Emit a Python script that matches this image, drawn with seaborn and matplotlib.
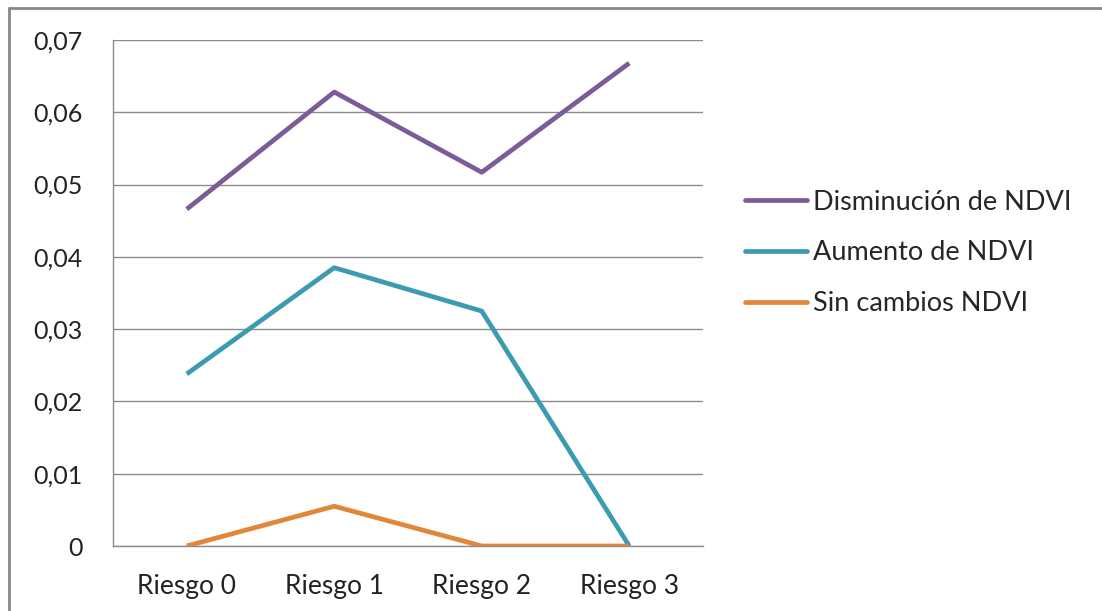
import matplotlib
matplotlib.use('Agg')
import matplotlib.pyplot as plt
from matplotlib.lines import Line2D
from matplotlib.ticker import FuncFormatter
import seaborn as sns
import pandas as pd

categorias = ['Riesgo 0', 'Riesgo 1', 'Riesgo 2', 'Riesgo 3']
series = ['Disminución de NDVI', 'Aumento de NDVI', 'Sin cambios NDVI']
disminucion = [0.0466, 0.0628, 0.0517, 0.0668]
aumento = [0.0238, 0.0385, 0.0325, 0.0]
sin_cambios = [0.0, 0.0055, 0.0, 0.0]

paleta = ['#7B5C99', '#3C9AB1', '#E0873A']

datos = pd.DataFrame({
    'pos': list(range(len(categorias))) * 3,
    'valor': disminucion + aumento + sin_cambios,
    'serie': [s for s in series for _ in categorias],
})

sns.set_style('white')
plt.rcParams['font.family'] = ['Lato', 'DejaVu Sans']

fig = plt.figure(figsize=(11.02, 6.11), dpi=100)
ax = fig.add_axes([113 / 1102, 65 / 611, 590 / 1102, 506 / 611])

sns.lineplot(data=datos, x='pos', y='valor', hue='serie', hue_order=series,
             palette=paleta, linewidth=3.4, ax=ax, legend=False)
for ln in ax.lines:
    ln.set_solid_capstyle('butt')

gris = '#8C8C8C'
ax.set_xlim(-0.5, 3.5)
ax.set_ylim(0, 0.07)
ax.set_yticks([0, 0.01, 0.02, 0.03, 0.04, 0.05, 0.06, 0.07])
ax.yaxis.set_major_formatter(FuncFormatter(lambda v, p: '0' if v == 0 else f'{v:.2f}'.replace('.', ',')))
ax.set_xticks(range(len(categorias)))
ax.set_xticklabels(categorias)
ax.set_xticks([-0.5, 0.5, 1.5, 2.5, 3.5], minor=True)
ax.tick_params(axis='x', which='major', length=0, pad=20, labelsize=19, labelcolor='#222222')
ax.tick_params(axis='x', which='minor', length=8, width=1, color=gris, direction='out')
ax.tick_params(axis='y', length=8, width=1, color=gris, pad=14, labelsize=18, labelcolor='#222222', direction='out')
ax.set_xlabel('')
ax.set_ylabel('')

ax.grid(axis='y', color=gris, linewidth=1)
ax.set_axisbelow(True)
for lado in ['top', 'right']:
    ax.spines[lado].set_visible(False)
for lado in ['left', 'bottom']:
    ax.spines[lado].set_color(gris)
    ax.spines[lado].set_linewidth(1)
ax.spines['bottom'].set_zorder(1)

manijas = [Line2D([], [], color=c, linewidth=3.4) for c in paleta]
fig.legend(manijas, series, loc='center left', bbox_to_anchor=(745 / 1102, 1 - 253 / 611),
           frameon=False, fontsize=19.5, handlelength=2.3, handletextpad=0.2, labelspacing=0.95,
           borderpad=0, borderaxespad=0)

# marco exterior del gráfico
fig.add_artist(Line2D([9 / 1102, 9 / 1102], [0, 1 - 8 / 611], transform=fig.transFigure, color='#888888', linewidth=2))
fig.add_artist(Line2D([9 / 1102, 1], [1 - 8 / 611, 1 - 8 / 611], transform=fig.transFigure, color='#888888', linewidth=2))

fig.savefig('out.png', dpi=100)
